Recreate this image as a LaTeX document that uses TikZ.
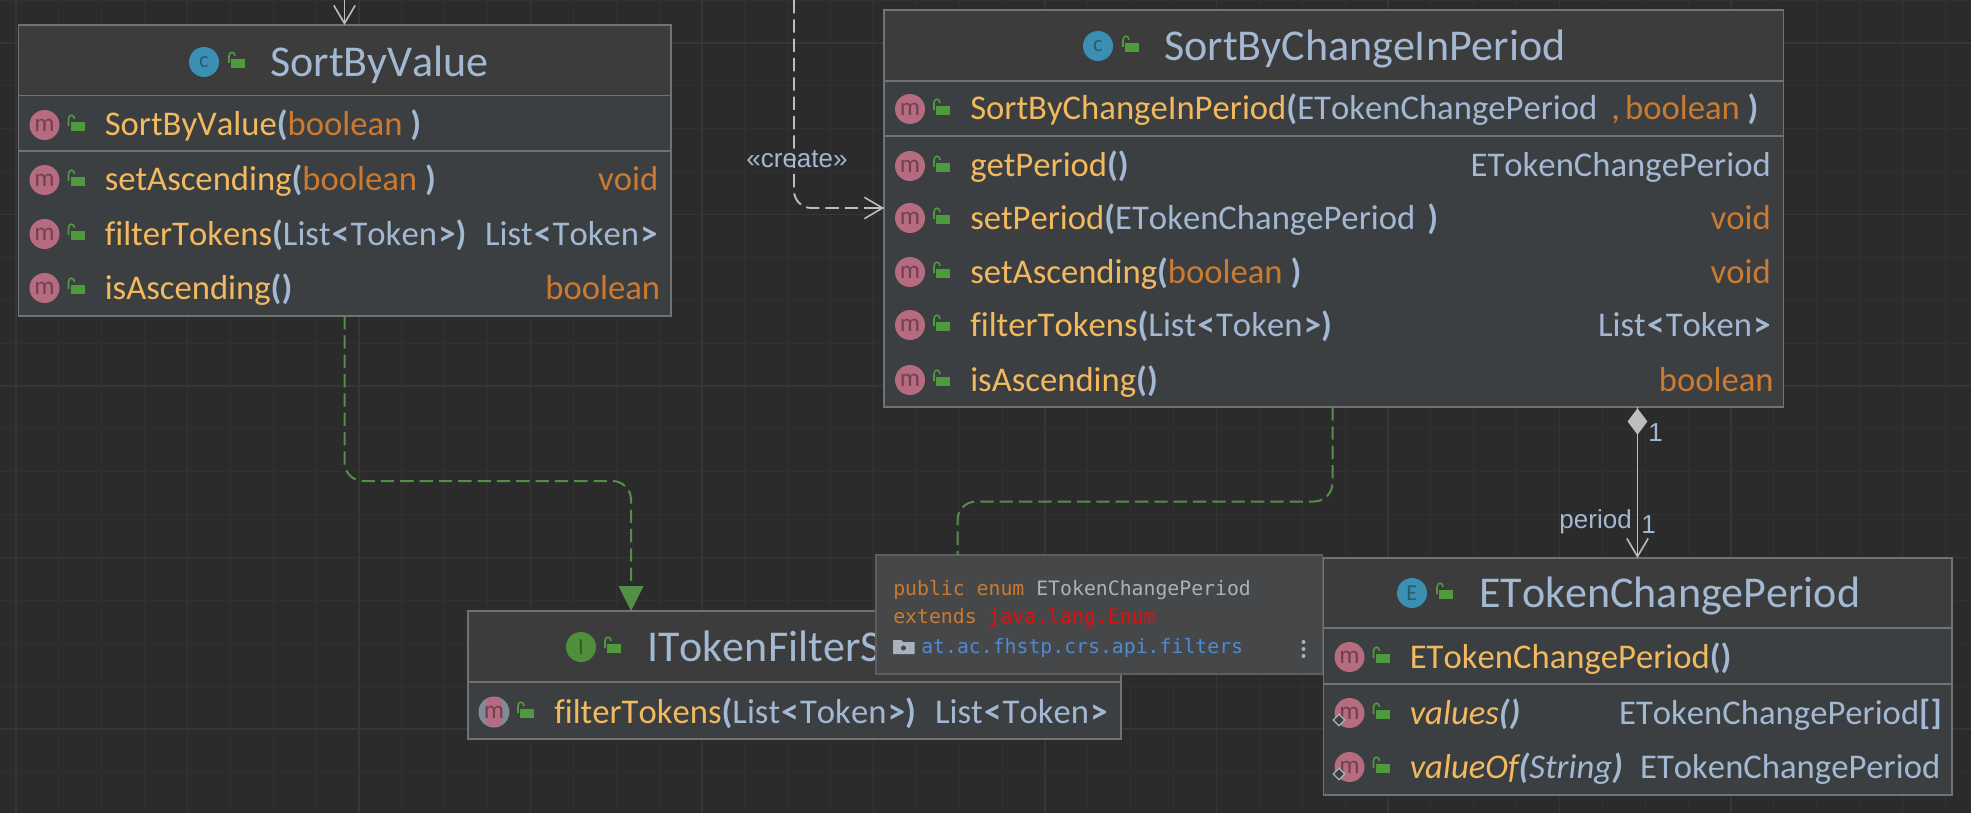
\documentclass[tikz,border=0pt]{standalone}
\usepackage{fontspec}
\setmainfont[Kerning=Off,Ligatures={NoCommon}]{Carlito}
\newfontfamily\monofnt{DejaVu Sans Mono}
\newfontfamily\lblfnt{Liberation Sans}
\usetikzlibrary{arrows.meta,fit,shapes.geometric}
\definecolor{bg}{HTML}{2B2B2B}
\definecolor{gridminor}{HTML}{313131}
\definecolor{gridmajor}{HTML}{363636}
\definecolor{headfill}{HTML}{3C3C3C}
\definecolor{bodyfill}{HTML}{3C3F41}
\definecolor{edge}{HTML}{727272}
\definecolor{tipfill}{HTML}{464748}
\definecolor{tipedge}{HTML}{5E5E5E}
\definecolor{mname}{HTML}{F2B95E}
\definecolor{tname}{HTML}{A3B8D2}
\definecolor{kword}{HTML}{CC7A30}
\definecolor{lockgreen}{HTML}{4E9A3C}
\definecolor{mpink}{HTML}{B56C80}
\definecolor{mdark}{HTML}{73404F}
\definecolor{cblue}{HTML}{3A8FB2}
\definecolor{cdark}{HTML}{2A5C75}
\definecolor{igreen}{HTML}{4F8F3C}
\definecolor{idark}{HTML}{2F5A24}
\definecolor{conngreen}{HTML}{548F46}
\definecolor{conngrey}{HTML}{BDBDBD}
\definecolor{tblue}{HTML}{4E8BD6}
\definecolor{tred}{HTML}{EA0C0C}
\definecolor{tgrey}{HTML}{A8B3BE}
\definecolor{ringgrey}{HTML}{7F8C96}
\newcommand{\mn}[1]{\textcolor{mname}{#1}}
\newcommand{\ty}[1]{\textcolor{tname}{#1}}
\newcommand{\kw}[1]{\textcolor{kword}{#1}}
\newcommand{\pl}{\ty{\textbf{(}}}
\newcommand{\pr}{\ty{\textbf{)}}}
\newcommand{\lst}{List\hspace{1pt}\textbf{<}\hspace{1pt}Token\hspace{1pt}\textbf{>}}
\tikzset{
  x=0.75pt,y=-0.75pt,
  headbox/.style={draw=edge,fill=headfill,line width=1.1pt,inner sep=0pt,outer sep=0pt,rectangle},
  bodybox/.style={draw=edge,fill=bodyfill,line width=1.1pt,inner sep=0pt,outer sep=0pt,rectangle},
  divider/.style={draw=edge,line width=1pt},
  tipbox/.style={draw=tipedge,fill=tipfill,line width=1pt,inner sep=0pt,outer sep=0pt,rectangle},
  rowtext/.style={anchor=base west,inner sep=0pt,font=\fontsize{26}{30}\selectfont},
  rettext/.style={anchor=base east,inner sep=0pt,font=\fontsize{26}{30}\selectfont},
  headtext/.style={anchor=base west,inner sep=0pt,text=tname,font=\fontsize{33}{38}\selectfont},
  micon/.style={circle,fill=mpink,text=mdark,inner sep=0pt,minimum size=22.5pt,font=\fontsize{19}{20}\selectfont},
  kindicon/.style={circle,inner sep=0pt,minimum size=22.5pt,font=\fontsize{17}{20}\selectfont},
  staticmark/.style={diamond,draw=tgrey,fill=bodyfill,line width=1pt,inner sep=0pt,minimum size=9pt},
  tiptext/.style={anchor=base west,inner sep=0pt,font=\monofnt\fontsize{14.85}{18}\selectfont},
  lbl/.style={inner sep=0pt,text=tname,font=\lblfnt\fontsize{19.5}{22}\selectfont},
  greendash/.style={draw=conngreen,line width=1.5pt,dash pattern=on 10pt off 4.5pt,rounded corners=14pt},
  greydash/.style={draw=conngrey,line width=1.4pt,dash pattern=on 10pt off 4.5pt,rounded corners=13pt},
  greyline/.style={draw=conngrey,line width=1.4pt},
  opentip/.style={-{Straight Barb[length=13.5pt,width=16pt,line width=1.2pt]}},
  lockicon/.pic={
    \fill[lockgreen] (-6,-3) rectangle (8,6);
    \draw[lockgreen,line width=1.2pt] (-8,1) -- (-8,-6) .. controls (-8,-11) and (-2,-11) .. (-2,-6);
  }
}
\newcommand{\mrow}[5]{% id, left, y, text
  \node[micon] (#1-m) at ({#2+26},#3) {m};
  \pic at ({#2+58},#3) {lockicon};
  \node[rowtext] (#1-t) at ({#2+86},{#3+11}) {#4};
}
\newcommand{\mret}[4]{% id, right, y, text
  \node[rettext] (#1-r) at (#2,{#3+11}) {#4};
}
\begin{document}
\begin{tikzpicture}
\useasboundingbox (0,0) rectangle (1971,813);
\fill[bg] (0,0) rectangle (1971,813);
% grid
\foreach \k in {0,...,46} {\draw[gridminor,line width=0.7pt] ({16+42.875*\k},0) -- ({16+42.875*\k},813);}
\foreach \k in {0,...,18} {\draw[gridminor,line width=0.7pt] (0,{0+42.875*\k}) -- (1971,{0+42.875*\k});}
\foreach \k in {0,...,11} {\draw[gridmajor,line width=0.9pt] ({16+171.5*\k},0) -- ({16+171.5*\k},813);}
\foreach \k in {0,...,4} {\draw[gridmajor,line width=0.9pt] (0,{43+171.5*\k}) -- (1971,{43+171.5*\k});}

% SortByValue
\node[headbox,fit={(18.5,25)(671,95.5)}] (sbvh) {};
\node[bodybox,fit={(18.5,95.5)(671,316)}] (sbvb) {};
\draw[divider] (18.5,151) -- (671,151);
\node[kindicon,fill=cblue,text=cdark] (sbv-c) at (204,62) {c};
\pic at (237,62) {lockicon};
\node[headtext] (sbv-title) at (270,76.5) {SortByValue};
\mrow{sbv1}{18.5}{125}{\mn{SortByValue}\pl\kw{boolean }\pr}{}
\mrow{sbv2}{18.5}{180}{\mn{setAscending}\pl\kw{boolean }\pr}{}
\mret{sbv2}{658.5}{180}{\kw{void}}
\mrow{sbv3}{18.5}{234}{\mn{filterTokens}\pl\ty{\lst}\pr}{}
\mret{sbv3}{658}{234}{\ty{\lst}}
\mrow{sbv4}{18.5}{288}{\mn{isAscending}\pl\pr}{}
\mret{sbv4}{660.5}{288}{\kw{boolean}}

% SortByChangeInPeriod
\node[headbox,fit={(884,10)(1783.5,81)}] (chgh) {};
\node[bodybox,fit={(884,81)(1783.5,407)}] (chgb) {};
\draw[divider] (884,136) -- (1783.5,136);
\node[kindicon,fill=cblue,text=cdark] (chg-c) at (1098,46) {c};
\pic at (1131,46) {lockicon};
\node[headtext] (chg-title) at (1164,60.5) {SortByChangeInPeriod};
\mrow{chg1}{884}{109}{\mn{SortByChangeInPeriod}\pl\ty{ETokenChangePeriod}\hspace{10.5pt}\kw{,}\hspace{3.8pt}\kw{boolean }\pr}{}
\mrow{chg2}{884}{166}{\mn{getPeriod}\pl\pr}{}
\mret{chg2}{1771}{166}{\ty{ETokenChangePeriod}}
\mrow{chg3}{884}{218}{\mn{setPeriod}\pl\ty{ETokenChangePeriod}\hspace{9pt}\pr}{}
\mret{chg3}{1771}{218}{\kw{void}}
\mrow{chg4}{884}{272}{\mn{setAscending}\pl\kw{boolean }\pr}{}
\mret{chg4}{1771}{272}{\kw{void}}
\mrow{chg5}{884}{325}{\mn{filterTokens}\pl\ty{\lst}\pr}{}
\mret{chg5}{1771}{325}{\ty{\lst}}
\mrow{chg6}{884}{380}{\mn{isAscending}\pl\pr}{}
\mret{chg6}{1774}{380}{\kw{boolean}}

% ITokenFilterS...
\node[headbox,fit={(468,611)(1121,682)}] (ifh) {};
\node[bodybox,fit={(468,682)(1121,739)}] (ifb) {};
\node[kindicon,fill=igreen,text=idark] (if-c) at (581,647) {I};
\pic at (613,647) {lockicon};
\node[headtext] (if-title) at (647,661.5) {ITokenFilterS};
\mrow{if1}{468}{712}{\mn{filterTokens}\pl\ty{\lst}\pr}{}
\mret{if1}{1108}{712}{\ty{\lst}}
\begin{scope}
  \clip (if1-m.center) circle (15.5);
  \fill[ringgrey] (if1-m.center) circle (15.5);
  \fill[mpink,rounded corners=3pt] ([xshift=-6pt,yshift=-11pt]if1-m.center) rectangle ([xshift=6pt,yshift=11pt]if1-m.center);
\end{scope}
\node[inner sep=0pt,text=mdark,font=\fontsize{19}{20}\selectfont] (if1-m2) at (if1-m.center) {m};

% EToken
\node[headbox,fit={(1323.5,558)(1952,628)}] (eth) {};
\node[bodybox,fit={(1323.5,628)(1952,795)}] (etb) {};
\draw[divider] (1323.5,684) -- (1952,684);
\node[kindicon,fill=cblue,text=cdark] (et-c) at (1412,593) {E};
\pic at (1445,593) {lockicon};
\node[headtext] (et-title) at (1479,607.5) {ETokenChangePeriod};
\mrow{et1}{1323.5}{657}{\mn{ETokenChangePeriod}\pl\pr}{}
\mrow{et2}{1323.5}{713}{\itshape\mn{values}\pl\pr}{}
\mret{et2}{1942}{713}{\ty{ETokenChangePeriod\textbf{[]}}}
\mrow{et3}{1323.5}{767}{\itshape\mn{valueOf}\pl\ty{String}\pr}{}
\mret{et3}{1940.5}{767}{\ty{ETokenChangePeriod}}
\node[staticmark] (et2-s) at (1339,720) {};
\node[staticmark] (et3-s) at (1339,774) {};

% tooltip
\node[tipbox,fit={(876,555)(1322.5,674)}] (tip) {};
\node[tiptext] (tip1) at (893,595) {\textcolor{kword}{public enum }\textcolor{tgrey}{ETokenChangePeriod}};
\node[tiptext] (tip2) at (893,623) {\textcolor{kword}{extends }\textcolor{tred}{java.lang.Enum}};
\node[tiptext] (tip3) at (921,653) {\textcolor{tblue}{at.ac.fhstp.crs.api.filters}};
\fill[tgrey] (893,640) -- (901,640) -- (903,642) -- (914.5,642) -- (914.5,654) -- (893,654) -- cycle;
\fill[tipfill] (903.5,648) circle (2.5);
\foreach \yy in {642,649,656} {\fill[tgrey] (1303.5,\yy) circle (2);}

% connectors
\coordinate (g1x) at (344.5,0);
\coordinate (g1y) at (0,481);
\coordinate (g1a) at (631,0);
\coordinate (g1l) at (618.5,586);
\coordinate (g1r) at (643.5,586);
\coordinate (g1b) at (631,586);
\coordinate (g2x) at (1332.5,0);
\coordinate (g2y) at (0,501.5);
\coordinate (g2a) at (957.5,0);
\coordinate (compx) at (1637.5,0);
\coordinate (crx) at (794,0);
\coordinate (cry) at (0,208);
\coordinate (crh) at (870,0);
\coordinate (topstart) at (344.5,0);

\draw[greendash] (sbvb.south -| g1x) -- (g1y -| g1x) -- (g1y -| g1a) -- (g1b);
\fill[conngreen] (g1l) -- (ifh.north -| g1a) -- (g1r) -- cycle;
\draw[greendash] (chgb.south -| g2x) -- (g2y -| g2x) -- (g2y -| g2a) -- (tip.north -| g2a);
\draw[greydash] (crx) -- (cry -| crx) -- (chgb.west |- cry);
\draw[greyline,opentip] (cry -| crh) -- (chgb.west |- cry);
\draw[greyline,opentip] (topstart) -- (sbvh.north -| topstart);
\draw[greyline,opentip] (chgb.south -| compx) -- (eth.north -| compx);
\node[diamond,fill=conngrey,inner sep=0pt,minimum width=15pt,minimum height=20pt,aspect=0.75] (compd) at (1637.5,421.5) {};

% labels
\node[lbl] (createlbl) at (797,159) {«create»};
\node[lbl,anchor=base west] (m1) at (1648,441) {1};
\node[lbl,anchor=base west] (m2) at (1641,533) {1};
\node[lbl,anchor=base east] (rolelbl) at (1632,528) {period};
\end{tikzpicture}
\end{document}
